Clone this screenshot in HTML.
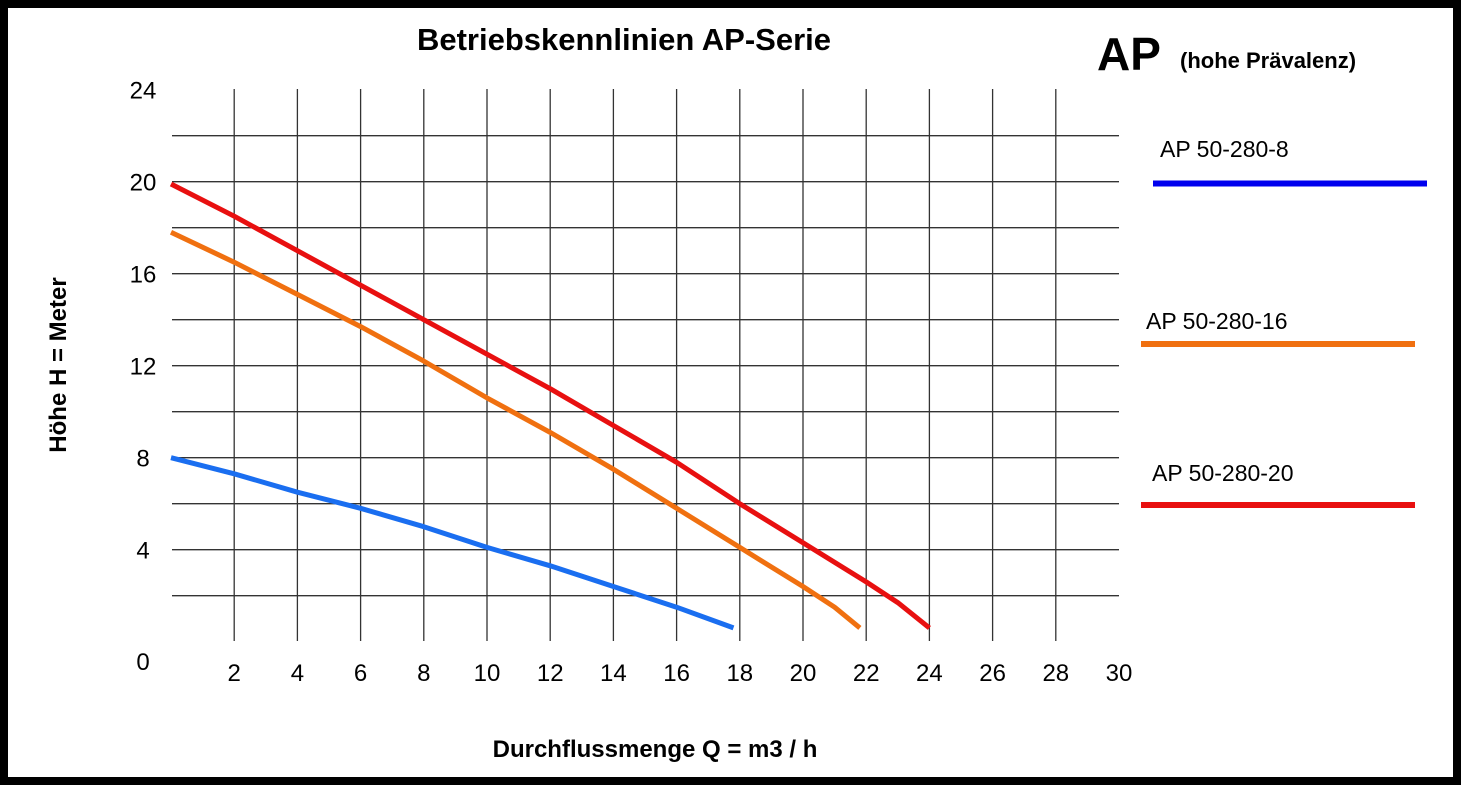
<!DOCTYPE html>
<html><head><meta charset="utf-8"><style>
html,body{margin:0;padding:0;background:#fff}
svg{display:block;font-family:"Liberation Sans",Arial,sans-serif}
</style></head><body>
<svg id="chart" width="1461" height="785" viewBox="0 0 1461 785">
<rect x="4" y="4" width="1453" height="777" fill="#fff" stroke="#000" stroke-width="8"/>
<text x="624" y="50" text-anchor="middle" font-size="31" font-weight="bold">Betriebskennlinien AP-Serie</text>
<text x="1097" y="70" font-size="46" font-weight="bold">AP</text>
<text x="1180" y="68" font-size="22" font-weight="bold">(hohe Prävalenz)</text>
<g id="grid"></g>
<g id="ticks"></g>
<g id="series"></g>
<text transform="translate(66,365) rotate(-90)" text-anchor="middle" font-size="24" font-weight="bold">Höhe H = Meter</text>
<text x="655" y="757" text-anchor="middle" font-size="24" font-weight="bold">Durchflussmenge Q = m3 / h</text>
<g>
<text x="1160" y="157" font-size="23">AP 50-280-8</text>
<line x1="1153" y1="183.5" x2="1427" y2="183.5" stroke="#0000ee" stroke-width="6"/>
<text x="1146" y="329" font-size="23">AP 50-280-16</text>
<line x1="1141" y1="344" x2="1415" y2="344" stroke="#f07010" stroke-width="6"/>
<text x="1152" y="481" font-size="23">AP 50-280-20</text>
<line x1="1141" y1="505" x2="1415" y2="505" stroke="#e81010" stroke-width="6"/>
</g>
</svg>
<script>
const xTicks=[2,4,6,8,10,12,14,16,18,20,22,24,26,28,30];
const yTicks=[0,4,8,12,16,20,24];
const blueQ=[0,2,4,6,8,10,12,14,16,17.8];
const blueH=[8.0,7.3,6.5,5.8,5.0,4.1,3.3,2.4,1.5,0.6];
const orangeQ=[0,2,4,6,8,10,12,14,16,18,20,21,21.8];
const orangeH=[17.8,16.5,15.1,13.7,12.2,10.6,9.1,7.5,5.8,4.1,2.4,1.5,0.6];
const redQ=[0,2,4,6,8,10,12,14,16,18,20,22,23,24];
const redH=[19.9,18.5,17.0,15.5,14.0,12.5,11.0,9.4,7.8,6.0,4.3,2.6,1.7,0.6];
const NS="http://www.w3.org/2000/svg";
const X=v=>171+v*31.6, Y=v=>641.7-v*23;
function mk(tag,attrs,parent){const e=document.createElementNS(NS,tag);for(const k in attrs)e.setAttribute(k,attrs[k]);parent.appendChild(e);return e;}
const grid=document.getElementById('grid'),ticks=document.getElementById('ticks'),series=document.getElementById('series');
for(let v=2;v<=22;v+=2){const l=mk('line',{x1:172,x2:1119,y1:Y(v),y2:Y(v),stroke:'#333','stroke-width':1.3},grid);

}
for(let v=2;v<=28;v+=2){const l=mk('line',{x1:X(v),x2:X(v),y1:89,y2:641,stroke:'#333','stroke-width':1.3},grid);

}
xTicks.forEach(v=>{const t=mk('text',{x:X(v),y:681,'text-anchor':'middle','font-size':24},ticks);t.textContent=v;

});
yTicks.forEach(v=>{const t=mk('text',{x:143,y:v===0?670:Y(v)+9,'text-anchor':'middle','font-size':24},ticks);t.textContent=v;

});
function line(q,h,color,name){const p=mk('polyline',{points:q.map((v,i)=>X(v)+','+Y(h[i])).join(' '),fill:'none',stroke:color,'stroke-width':5,'stroke-linejoin':'round'},series);

}
line(blueQ,blueH,'#1a6ef0','curve-ap-50-280-8');
line(orangeQ,orangeH,'#f07010','curve-ap-50-280-16');
line(redQ,redH,'#e81010','curve-ap-50-280-20');
</script>
</body></html>
